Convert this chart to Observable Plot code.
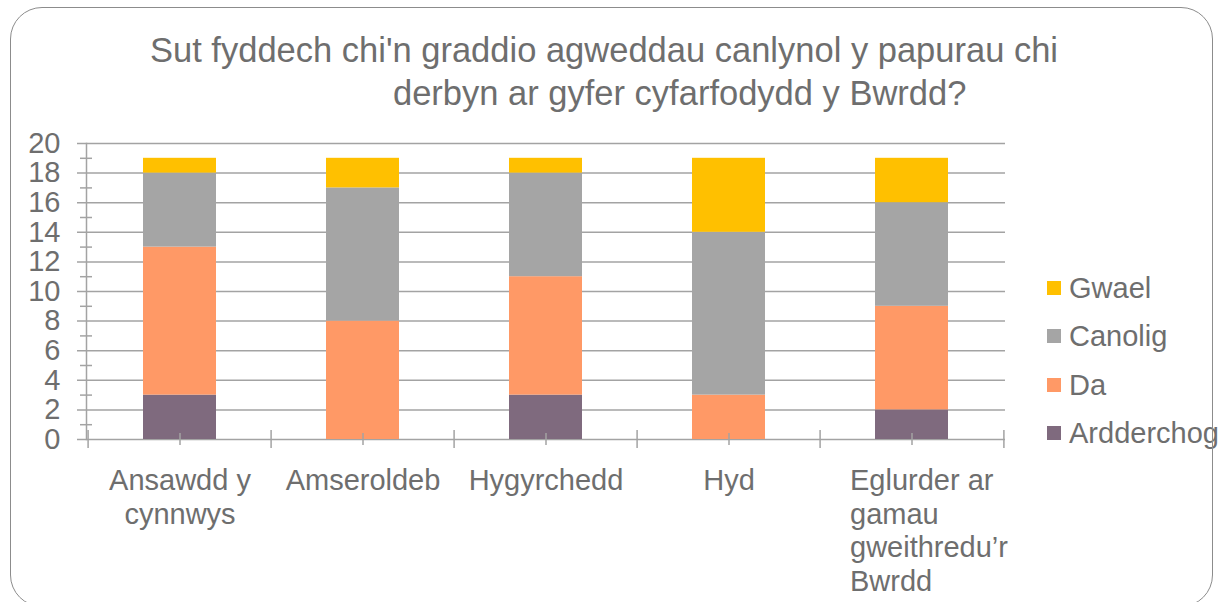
<!DOCTYPE html>
<html><head><meta charset="utf-8">
<script src="https://cdn.jsdelivr.net/npm/d3@7"></script>
<script src="https://cdn.jsdelivr.net/npm/@observablehq/plot@0.6"></script>
<style>
body{margin:0;background:#fff;}
#wrap{position:relative;width:1226px;height:602px;overflow:hidden;font-family:"Liberation Sans",Arial,sans-serif;color:#6e6e6e;background:#fff;}
#wrap svg{position:absolute;left:0;top:0;}
.border{position:absolute;left:10px;top:7px;width:1203px;height:600px;border:1.5px solid #8c8c8c;border-radius:32px;box-sizing:border-box;pointer-events:none;}
.title{position:absolute;font-size:34.5px;line-height:34px;white-space:nowrap;}
.leg{position:absolute;left:1047px;height:30px;display:flex;align-items:center;font-size:29px;line-height:30px;white-space:nowrap;}
.leg span.sw{display:inline-block;width:14px;height:14px;margin-right:8px;}
</style></head><body><div id="wrap"></div>
<script>
const categories = ["Ansawdd y cynnwys","Amseroldeb","Hygyrchedd","Hyd","Eglurder ar gamau gweithredu’r Bwrdd"];
const categoryLabels = ["Ansawdd y\ncynnwys","Amseroldeb","Hygyrchedd","Hyd","Eglurder ar\ngamau\ngweithredu’r\nBwrdd"];
const seriesNames = ["Ardderchog","Da","Canolig","Gwael"];
const seriesColors = ["#7f6a7e","#ff9966","#a5a5a5","#ffc000"];
const ardderchog = [3,0,3,0,2];
const da = [10,8,8,3,7];
const canolig = [5,9,7,11,7];
const gwael = [1,2,1,5,3];
const yTicks = [0,2,4,6,8,10,12,14,16,18,20];
const yMinor = [1,3,5,7,9,11,13,15,17,19];
const titleLines = ["Sut fyddech chi'n graddio agweddau canlynol y papurau chi","derbyn ar gyfer cyfarfodydd y Bwrdd?"];

const seriesValues = [ardderchog, da, canolig, gwael];
const data = [];
seriesNames.forEach((s, si) => categories.forEach((c, ci) => data.push({cat: c, series: s, value: seriesValues[si][ci]})));

const W = 1226, H = 602, ML = 86, MR = 221, MT = 143, MB = 163;
const plotW = W - ML - MR;
const step = plotW / categories.length;
const grey = "#a3a3a3";
const labelOf = new Map(categories.map((c, i) => [c, categoryLabels[i]]));

const chart = Plot.plot({
  width: W, height: H,
  marginLeft: ML, marginRight: MR, marginTop: MT, marginBottom: MB,
  style: {fontFamily: "Liberation Sans, Arial, sans-serif", color: "#6e6e6e", background: "transparent", overflow: "visible"},
  x: {domain: categories, paddingInner: 0.6, paddingOuter: 0.3, axis: null},
  y: {domain: [0, 20], axis: null, label: null},
  color: {domain: seriesNames, range: seriesColors},
  marks: [
    Plot.ruleY(yTicks, {y: d => d, stroke: grey, strokeWidth: 1.5, insetLeft: -9}),
    Plot.ruleY(yMinor, {y: d => d, stroke: grey, strokeWidth: 1.5, insetLeft: -6, insetRight: plotW - 6}),
    Plot.barY(data, {x: "cat", y: "value", fill: "series", order: seriesNames}),
    Plot.frame({anchor: "left", stroke: grey, strokeWidth: 1.5}),
    Plot.ruleX(categories, {x: d => d, y1: 0, y2: 0, dx: -step / 2, insetTop: -9, insetBottom: -9, stroke: grey, strokeWidth: 1.5}),
    Plot.ruleX(categories.slice(-1), {x: d => d, y1: 0, y2: 0, dx: step / 2, insetTop: -9, insetBottom: -9, stroke: grey, strokeWidth: 1.5}),
    Plot.ruleX(categories, {x: d => d, y1: 0, y2: 0, insetTop: -6, insetBottom: -6, stroke: grey, strokeWidth: 1.5}),
    Plot.axisY(yTicks, {tickSize: 0, tickPadding: 26, fontSize: 29, fill: "#6e6e6e", label: null}),
    Plot.text(categories.slice(0, 4), {x: d => d, text: d => labelOf.get(d), frameAnchor: "bottom", lineAnchor: "top", dy: 26, fontSize: 29, lineHeight: 1.17, fill: "#6e6e6e"}),
    Plot.text(categories.slice(-1), {x: d => d, text: d => labelOf.get(d), frameAnchor: "bottom", lineAnchor: "top", textAnchor: "start", dx: -62, dy: 26, fontSize: 29, lineHeight: 1.17, fill: "#6e6e6e"})
  ]
});

const wrap = document.getElementById("wrap");
wrap.appendChild(chart);

const tops = [33, 76], lefts = [150, 393];
titleLines.forEach((t, i) => {
  const d = document.createElement("div");
  d.className = "title"; d.textContent = t;
  d.style.top = tops[i] + "px"; d.style.left = lefts[i] + "px";
  wrap.appendChild(d);
});

const legOrder = seriesNames.slice().reverse();
legOrder.forEach((s, i) => {
  const row = document.createElement("div");
  row.className = "leg";
  row.style.top = (288 + i * 48.3 - 15) + "px";
  const sw = document.createElement("span");
  sw.className = "sw"; sw.style.background = seriesColors[seriesNames.indexOf(s)];
  row.appendChild(sw);
  row.appendChild(document.createTextNode(s));
  wrap.appendChild(row);
});

const b = document.createElement("div");
b.className = "border";
wrap.appendChild(b);
</script>
</body></html>
